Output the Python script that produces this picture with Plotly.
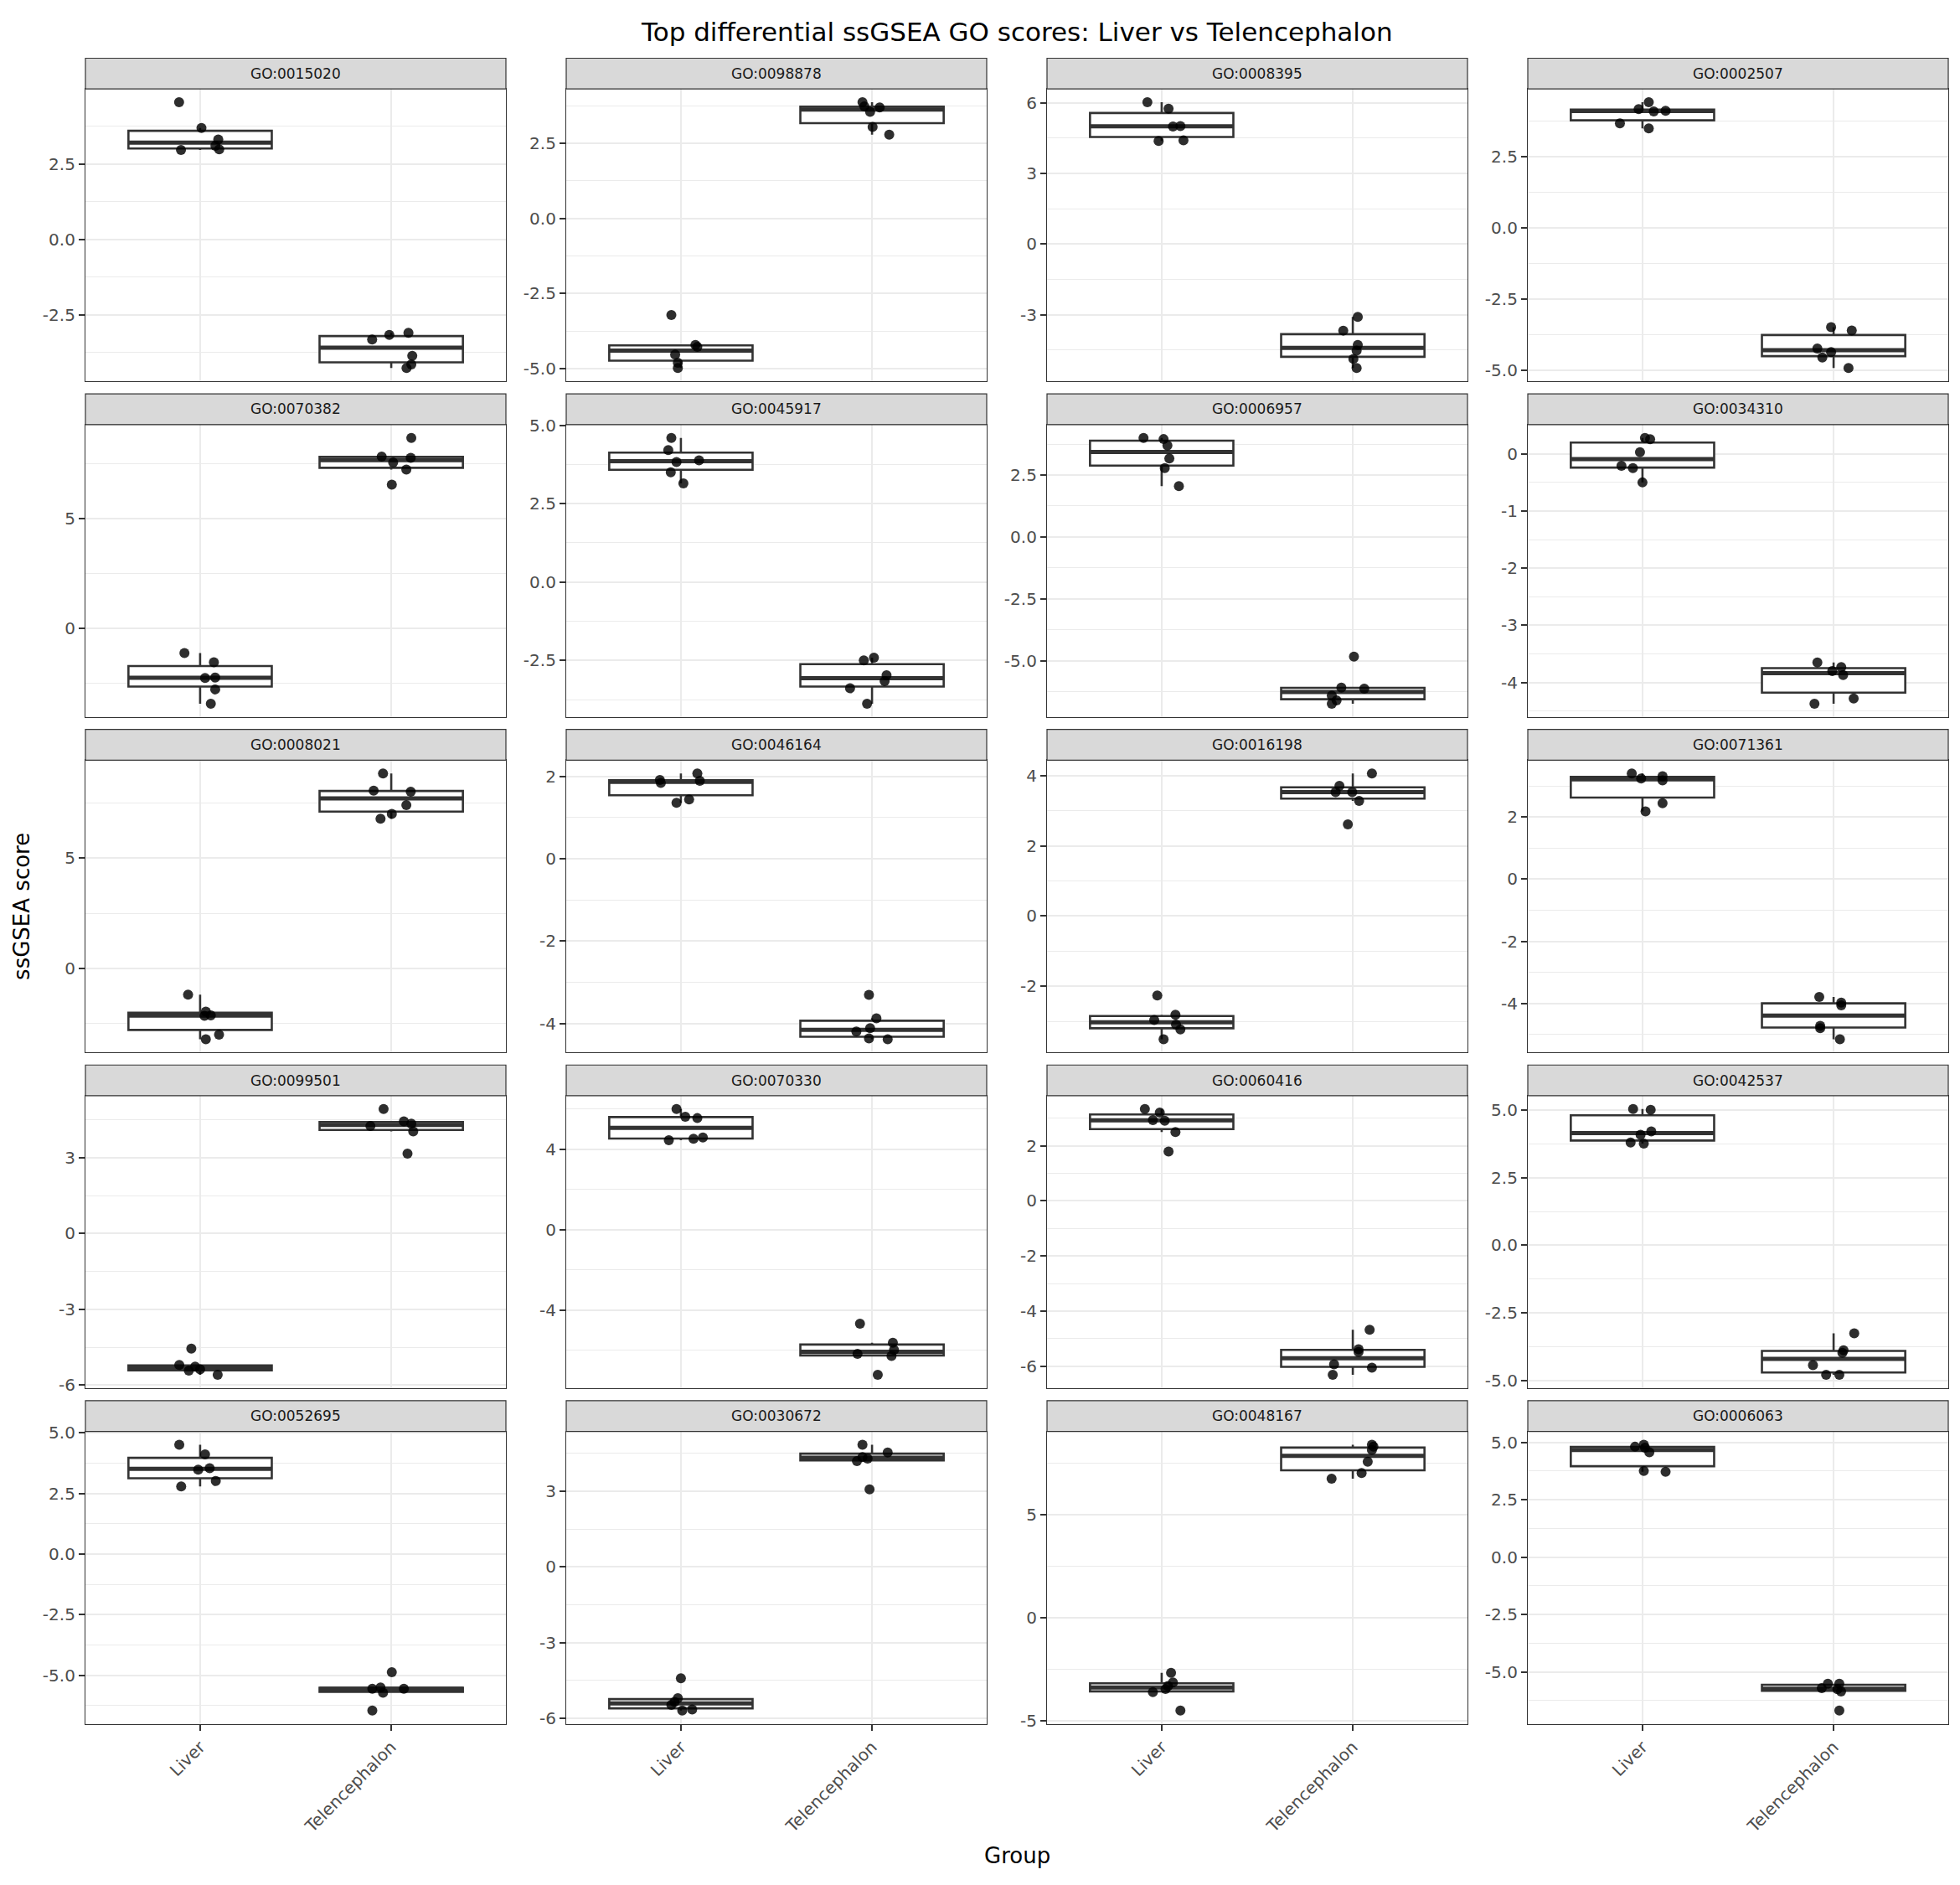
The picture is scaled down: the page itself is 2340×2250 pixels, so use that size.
import numpy as np
import plotly.graph_objects as go

# ---------------- data ----------------
go_terms = ["GO:0015020", "GO:0098878", "GO:0008395", "GO:0002507",
            "GO:0070382", "GO:0045917", "GO:0006957", "GO:0034310",
            "GO:0008021", "GO:0046164", "GO:0016198", "GO:0071361",
            "GO:0099501", "GO:0070330", "GO:0060416", "GO:0042537",
            "GO:0052695", "GO:0030672", "GO:0048167", "GO:0006063"]
groups = ["Liver", "Telencephalon"]

liver_scores = [
    [4.54, 3.69, 2.96, 3.31, 3.10, 2.98],
    [-3.21, -4.21, -4.27, -4.53, -4.80, -4.98],
    [6.02, 5.75, 4.99, 5.01, 4.38, 4.40],
    [4.42, 4.18, 4.10, 4.12, 3.68, 3.50],
    [-1.13, -1.545, -2.26, -2.24, -2.78, -3.43],
    [4.60, 4.21, 3.88, 3.83, 3.50, 3.15],
    [4.00, 3.95, 3.69, 3.17, 2.78, 2.05],
    [0.28, 0.255, 0.03, -0.21, -0.25, -0.50],
    [-1.19, -1.96, -2.125, -2.15, -3.00, -3.21],
    [2.07, 1.91, 1.89, 1.84, 1.44, 1.36],
    [-2.26, -2.81, -2.96, -3.09, -3.23, -3.51],
    [3.40, 3.24, 3.31, 3.18, 2.44, 2.18],
    [-4.55, -5.20, -5.26, -5.42, -5.37, -5.59],
    [5.99, 5.61, 5.54, 4.44, 4.51, 4.58],
    [3.33, 3.20, 2.93, 2.91, 2.50, 1.79],
    [5.05, 5.02, 4.22, 4.10, 3.81, 3.77],
    [4.51, 4.11, 3.54, 3.48, 3.01, 2.79],
    [-4.41, -5.20, -5.35, -5.47, -5.69, -5.65],
    [-2.68, -3.15, -3.32, -3.47, -3.62, -4.51],
    [4.90, 4.81, 4.77, 4.57, 3.76, 3.72],
]

telen_scores = [
    [-3.315, -3.16, -3.09, -3.855, -4.14, -4.26],
    [3.87, 3.73, 3.70, 3.55, 3.05, 2.79],
    [-3.09, -3.67, -4.28, -4.52, -4.87, -5.26],
    [-3.48, -3.60, -4.23, -4.355, -4.55, -4.92],
    [8.66, 7.81, 7.75, 7.54, 7.22, 6.53],
    [-2.41, -2.50, -2.97, -3.16, -3.39, -3.88],
    [-4.84, -6.09, -6.13, -6.41, -6.61, -6.74],
    [-3.65, -3.73, -3.80, -3.87, -4.28, -4.37],
    [8.84, 8.06, 8.01, 7.41, 7.01, 6.79],
    [-3.30, -3.87, -4.11, -4.19, -4.36, -4.38],
    [4.06, 3.71, 3.53, 3.53, 3.28, 2.61],
    [-3.79, -3.97, -4.06, -4.72, -4.79, -5.15],
    [4.92, 4.43, 4.34, 4.25, 4.04, 3.16],
    [-4.68, -5.62, -5.98, -6.17, -6.28, -7.22],
    [-4.67, -5.38, -5.48, -5.93, -6.05, -6.31],
    [-3.26, -3.89, -3.98, -4.44, -4.80, -4.80],
    [-4.87, -5.55, -5.50, -5.55, -5.72, -6.45],
    [4.85, 4.54, 4.36, 4.30, 4.20, 3.08],
    [8.39, 8.29, 8.13, 7.56, 7.01, 6.74],
    [-5.51, -5.51, -5.71, -5.75, -5.85, -6.68],
]

# horizontal jitter of each point (in category units)
liver_jitter = [
    [-0.11, 0.007, -0.10, 0.095, 0.08, 0.10],
    [-0.05, 0.076, 0.086, -0.03, -0.016, -0.016],
    [-0.075, 0.036, 0.059, 0.098, -0.016, 0.114],
    [0.033, -0.02, 0.059, 0.121, -0.118, 0.033],
    [-0.082, 0.072, 0.026, 0.079, 0.079, 0.056],
    [-0.05, -0.066, 0.095, -0.023, -0.053, 0.013],
    [-0.095, 0.01, 0.03, 0.04, 0.016, 0.09],
    [0.013, 0.04, -0.013, -0.11, -0.05, 0.0],
    [-0.063, 0.03, 0.056, 0.023, 0.099, 0.03],
    [0.086, -0.11, 0.099, -0.105, 0.043, -0.023],
    [-0.023, 0.072, -0.039, 0.075, 0.098, 0.01],
    [-0.056, -0.007, 0.105, 0.105, 0.105, 0.016],
    [-0.046, -0.109, -0.026, -0.059, 0.0, 0.092],
    [-0.023, 0.023, 0.086, -0.063, 0.066, 0.115],
    [-0.088, -0.01, -0.046, 0.016, 0.072, 0.036],
    [-0.049, 0.043, 0.046, -0.01, -0.062, 0.007],
    [-0.109, 0.026, 0.05, -0.01, 0.082, -0.099],
    [0.0, -0.016, -0.033, -0.05, 0.007, 0.059],
    [0.049, 0.059, 0.033, 0.02, -0.046, 0.098],
    [0.007, -0.039, 0.013, 0.036, 0.007, 0.121],
]

telen_jitter = [
    [-0.10, -0.01, 0.09, 0.11, 0.105, 0.08],
    [-0.05, -0.04, 0.04, -0.01, 0.003, 0.09],
    [0.026, -0.05, 0.026, 0.02, 0.003, 0.02],
    [-0.013, 0.095, -0.085, -0.013, -0.059, 0.078],
    [0.105, -0.05, 0.102, 0.01, 0.079, 0.003],
    [0.01, -0.043, 0.076, 0.066, -0.115, -0.026],
    [0.006, -0.06, 0.06, -0.11, -0.085, -0.11],
    [-0.085, 0.04, -0.007, 0.05, 0.105, -0.10],
    [-0.043, -0.092, 0.102, 0.079, 0.003, -0.056],
    [-0.016, 0.023, -0.01, -0.082, -0.016, 0.082],
    [0.10, -0.07, -0.09, -0.003, 0.033, -0.026],
    [-0.075, 0.04, 0.04, -0.07, -0.07, 0.033],
    [-0.04, 0.066, 0.105, -0.109, 0.115, 0.085],
    [-0.063, 0.109, 0.115, -0.076, 0.102, 0.03],
    [0.088, 0.03, 0.03, -0.098, 0.10, -0.105],
    [0.108, 0.052, 0.046, -0.108, -0.039, 0.03],
    [0.003, -0.099, -0.056, 0.066, -0.043, -0.099],
    [-0.05, 0.082, -0.05, -0.023, -0.079, -0.013],
    [0.10, 0.108, 0.10, 0.078, 0.046, -0.111],
    [-0.03, 0.03, -0.062, 0.02, 0.039, 0.03],
]

y_tick_labels = [
    ["-2.5", "0.0", "2.5"],
    ["-5.0", "-2.5", "0.0", "2.5"],
    ["-3", "0", "3", "6"],
    ["-5.0", "-2.5", "0.0", "2.5"],
    ["0", "5"],
    ["-2.5", "0.0", "2.5", "5.0"],
    ["-5.0", "-2.5", "0.0", "2.5"],
    ["-4", "-3", "-2", "-1", "0"],
    ["0", "5"],
    ["-4", "-2", "0", "2"],
    ["-2", "0", "2", "4"],
    ["-4", "-2", "0", "2"],
    ["-6", "-3", "0", "3"],
    ["-4", "0", "4"],
    ["-6", "-4", "-2", "0", "2"],
    ["-5.0", "-2.5", "0.0", "2.5", "5.0"],
    ["-5.0", "-2.5", "0.0", "2.5", "5.0"],
    ["-6", "-3", "0", "3"],
    ["-5", "0", "5"],
    ["-5.0", "-2.5", "0.0", "2.5", "5.0"],
]

title_text = "Top differential ssGSEA GO scores: Liver vs Telencephalon"
x_title = "Group"
y_title = "ssGSEA score"

# ---------------- layout geometry / styles ----------------
W, H = 2340, 2250
NCOL = 4
LEFT0, PANEL_W, COL_PITCH = 102, 502, 574
STRIP_TOP0, PLOT_TOP0, PLOT_H, ROW_PITCH = 59, 96, 352, 404
POS = [1, 2]
BOX_W = 0.75
FONT = "DejaVu Sans"
DARK = "#333333"
GRID = "#EBEBEB"
TICK_COL = "#4D4D4D"


def box_stats(v):
    v = np.asarray(v, dtype=float)
    q1, med, q3 = np.percentile(v, [25, 50, 75])
    iqr = q3 - q1
    lo = v[v >= q1 - 1.5 * iqr].min()
    hi = v[v <= q3 + 1.5 * iqr].max()
    return q1, med, q3, lo, hi


fig = go.Figure()
shapes, annotations = [], []
layout_axes = {}
nrows = (len(go_terms) + NCOL - 1) // NCOL

for i, term in enumerate(go_terms):
    r, c = divmod(i, NCOL)
    sfx = "" if i == 0 else str(i + 1)
    xa, ya = "x" + sfx, "y" + sfx
    x0 = LEFT0 + c * COL_PITCH
    x1 = x0 + PANEL_W
    yt = PLOT_TOP0 + r * ROW_PITCH
    yb = yt + PLOT_H
    st = STRIP_TOP0 + r * ROW_PITCH

    data = [liver_scores[i], telen_scores[i]]
    jit = [liver_jitter[i], telen_jitter[i]]
    stats = [box_stats(d) for d in data]

    fig.add_trace(go.Box(
        x=POS,
        q1=[s[0] for s in stats], median=[s[1] for s in stats],
        q3=[s[2] for s in stats], lowerfence=[s[3] for s in stats],
        upperfence=[s[4] for s in stats],
        width=BOX_W, whiskerwidth=0, boxpoints=False,
        fillcolor="white", line=dict(color=DARK, width=2.6),
        xaxis=xa, yaxis=ya, showlegend=False, hoverinfo="skip"))

    mx, my = [], []
    for p, s in zip(POS, stats):
        mx += [p - BOX_W / 2, p + BOX_W / 2, None]
        my += [s[1], s[1], None]
    fig.add_trace(go.Scatter(x=mx, y=my, mode="lines",
                             line=dict(color=DARK, width=5),
                             xaxis=xa, yaxis=ya, showlegend=False, hoverinfo="skip"))

    px, py = [], []
    for p, d, j in zip(POS, data, jit):
        px += [p + jj for jj in j]
        py += list(d)
    fig.add_trace(go.Scatter(x=px, y=py, mode="markers",
                             marker=dict(color="black", opacity=0.82, size=12,
                                         line=dict(width=0)),
                             xaxis=xa, yaxis=ya, showlegend=False, hoverinfo="skip"))

    allv = np.concatenate([np.asarray(d) for d in data])
    lo, hi = allv.min(), allv.max()
    pad = 0.05 * (hi - lo)
    yr = [lo - pad, hi + pad]

    tv = [float(t) for t in y_tick_labels[i]]
    step = tv[1] - tv[0]
    minor = [tv[0] - step / 2] + [(a + b) / 2 for a, b in zip(tv[:-1], tv[1:])] + [tv[-1] + step / 2]

    bottom_row = (r == nrows - 1)
    layout_axes["xaxis" + sfx] = dict(
        domain=[x0 / W, x1 / W], anchor=ya, range=[0.4, 2.6],
        tickmode="array", tickvals=POS, ticktext=groups,
        showticklabels=bottom_row, ticks="outside" if bottom_row else "",
        ticklen=7, tickwidth=2, tickcolor=DARK, tickangle=-45,
        tickfont=dict(family=FONT, size=20, color=TICK_COL),
        showgrid=True, gridcolor=GRID, gridwidth=2.4, zeroline=False,
        showline=True, mirror=True, linecolor=DARK, linewidth=1.2)
    layout_axes["yaxis" + sfx] = dict(
        domain=[1 - yb / H, 1 - yt / H], anchor=xa, range=yr,
        tickmode="array", tickvals=tv, ticktext=y_tick_labels[i],
        ticks="outside", ticklen=7, tickwidth=2, tickcolor=DARK,
        tickfont=dict(family=FONT, size=20, color=TICK_COL),
        showgrid=True, gridcolor=GRID, gridwidth=2.4, zeroline=False,
        minor=dict(tickvals=minor, showgrid=True, gridcolor=GRID, gridwidth=1.3, ticks=""),
        showline=True, mirror=True, linecolor=DARK, linewidth=1.2)

    shapes.append(dict(type="rect", xref="paper", yref="paper",
                       x0=x0 / W, x1=x1 / W, y0=1 - yt / H, y1=1 - st / H,
                       fillcolor="#D9D9D9", line=dict(color=DARK, width=1.2)))
    annotations.append(dict(text=term, xref="paper", yref="paper",
                            x=(x0 + x1) / 2 / W, y=1 - (st + yt) / 2 / H,
                            xanchor="center", yanchor="middle", showarrow=False,
                            font=dict(family=FONT, size=17, color="#1A1A1A")))

plot_left = LEFT0
plot_right = LEFT0 + (NCOL - 1) * COL_PITCH + PANEL_W
annotations.append(dict(text=title_text, xref="paper", yref="paper",
                        x=(plot_left + plot_right) / 2 / W, y=1 - 27 / H,
                        xanchor="center", yanchor="middle", showarrow=False,
                        font=dict(family=FONT, size=31, color="black")))
annotations.append(dict(text=x_title, xref="paper", yref="paper",
                        x=(plot_left + plot_right) / 2 / W, y=1 - 2223 / H,
                        xanchor="center", yanchor="middle", showarrow=False,
                        font=dict(family=FONT, size=26, color="black")))
annotations.append(dict(text=y_title, xref="paper", yref="paper",
                        x=26 / W, y=1 - (PLOT_TOP0 + (PLOT_TOP0 + (nrows - 1) * ROW_PITCH + PLOT_H)) / 2 / H,
                        xanchor="center", yanchor="middle", textangle=-90, showarrow=False,
                        font=dict(family=FONT, size=26, color="black")))

fig.update_layout(width=W, height=H, autosize=False,
                  margin=dict(l=0, r=0, t=0, b=0, pad=0),
                  paper_bgcolor="white", plot_bgcolor="white",
                  font=dict(family=FONT),
                  shapes=shapes, annotations=annotations, showlegend=False,
                  **layout_axes)

fig.write_html("out.html")
